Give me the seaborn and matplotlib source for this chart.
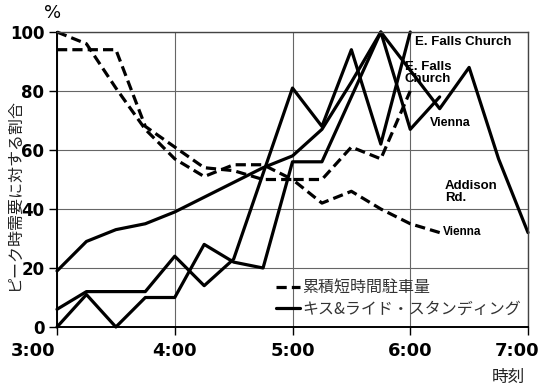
import matplotlib
matplotlib.use("Agg")
import matplotlib.pyplot as plt
import seaborn as sns
from matplotlib.lines import Line2D
from matplotlib.transforms import ScaledTranslation
from matplotlib.font_manager import FontProperties

# ---------------- data (hours, % of peak demand) ----------------
t_park_efc = [3.0, 3.25, 3.5, 3.75, 4.0, 4.25, 4.5, 4.75, 5.0, 5.25, 5.5, 5.75, 6.0]
park_efc = [100, 96, 81, 67, 57, 51, 55, 55, 50, 50, 61, 57, 80]

t_park_vienna = [3.0, 3.25, 3.5, 3.75, 4.0, 4.25, 4.5, 4.75, 5.0, 5.25, 5.5, 5.75, 6.0, 6.25]
park_vienna = [94, 94, 94, 68, 61, 54, 53, 50, 50, 42, 46, 40, 35, 32]

t_kr_efc = [3.0, 3.25, 3.5, 3.75, 4.0, 4.25, 4.5, 4.75, 5.0, 5.25, 5.5, 5.75, 6.0]
kr_efc = [6, 12, 12, 12, 24, 14, 23, 52, 81, 68, 94, 62, 100]

t_kr_vienna = [3.0, 3.25, 3.5, 3.75, 4.0, 4.25, 4.5, 4.75, 5.0, 5.25, 5.5, 5.75, 6.0, 6.25]
kr_vienna = [0, 11, 0, 10, 10, 28, 22, 20, 56, 56, 78, 100, 67, 78]

t_kr_addison = [3.0, 3.25, 3.5, 3.75, 4.0, 4.25, 4.5, 4.75, 5.0, 5.25, 5.5, 5.75, 6.0, 6.25, 6.5, 6.75, 7.0]
kr_addison = [19, 29, 33, 35, 39, 44, 49, 54, 58, 67, 83, 100, 87, 74, 88, 57, 32]

x_ticks = [3, 4, 5, 6, 7]
x_tick_labels = ["3:00", "4:00", "5:00", "6:00", "7:00"]
y_ticks = [0, 20, 40, 60, 80, 100]

legend_labels = ["累積短時間駐車量", "キス&ライド・スタンディング"]
y_label = "ピーク時需要に対する割合"
x_label = "時刻"

# ---------------- style ----------------
sns.set_theme(style="ticks")
plt.rcParams["font.family"] = ["DejaVu Sans", "Noto Sans CJK JP"]

fig = plt.figure(figsize=(5.45, 3.89), dpi=100)
ax = fig.add_axes([57 / 545, 62 / 389, 471 / 545, 295 / 389])

LW = 2.3
DASH = (0, (3.2, 1.6))

for t, v in [(t_park_efc, park_efc), (t_park_vienna, park_vienna)]:
    sns.lineplot(x=t, y=v, ax=ax, color="black", linewidth=LW,
                 linestyle=DASH, clip_on=False, legend=False)
for t, v in [(t_kr_efc, kr_efc), (t_kr_vienna, kr_vienna), (t_kr_addison, kr_addison)]:
    sns.lineplot(x=t, y=v, ax=ax, color="black", linewidth=LW,
                 clip_on=False, legend=False)

ax.set_xlim(3, 7)
ax.set_ylim(0, 100)
ax.set_xticks(x_ticks)
ax.set_xticklabels(x_tick_labels, fontsize=13, fontweight="bold")
ax.set_yticks(y_ticks)
ax.set_yticklabels([str(v) for v in y_ticks], fontsize=12, fontweight="bold")
ax.tick_params(axis="both", direction="out", length=6, width=1, color="black",
               labelcolor="black")
ax.tick_params(axis="x", pad=5)
ax.tick_params(axis="y", pad=3)

# shift edge tick labels inward like the reference
xl = ax.get_xticklabels()
xl[0].set_transform(xl[0].get_transform() + ScaledTranslation(-24 / 100, 0, fig.dpi_scale_trans))
xl[-1].set_transform(xl[-1].get_transform() + ScaledTranslation(-11 / 100, 0, fig.dpi_scale_trans))

ax.grid(True, color="#666666", linewidth=0.8)
ax.set_axisbelow(True)
for side in ["left", "bottom"]:
    ax.spines[side].set_color("black")
    ax.spines[side].set_linewidth(1.4)
for side in ["top", "right"]:
    ax.spines[side].set_color("#444444")
    ax.spines[side].set_linewidth(1.0)
ax.set_xlabel("")
ax.set_ylabel("")

# axis captions
fig.text(14 / 545, 1 - 195 / 389, y_label, rotation=90, ha="center", va="center",
         fontsize=11.5, family=["Noto Sans CJK JP", "DejaVu Sans"], color="#222222")
fig.text(53 / 545, 1 - 13 / 389, "%", ha="center", va="center", fontsize=13,
         color="black")
fig.text(508 / 545, 1 - 377 / 389, x_label, ha="center", va="center", fontsize=12,
         family=["Noto Sans CJK JP", "DejaVu Sans"], color="#222222")

# annotations
lab = dict(family="Liberation Sans", fontweight="bold", color="black",
           ha="left", va="center")
ax.text(6.04, 96.6, "E. Falls Church", fontsize=9.5, **lab)
ax.text(5.955, 86, "E. Falls\nChurch", fontsize=9.5, linespacing=1.0, **lab)
ax.text(6.17, 69.2, "Vienna", fontsize=9, **lab)
ax.text(6.295, 45.8, "Addison\nRd.", fontsize=9.5, linespacing=1.0, **lab)
ax.text(6.28, 32.2, "Vienna", fontsize=8.5, **lab)

# legend
handles = [Line2D([0], [0], color="black", lw=LW, linestyle=DASH),
           Line2D([0], [0], color="black", lw=LW)]
ax.legend(handles, legend_labels, loc="upper left", bbox_to_anchor=(0.465, 0.16),
          frameon=False, borderaxespad=0, borderpad=0, handlelength=1.5,
          handletextpad=0.15, labelspacing=0.25,
          prop=FontProperties(family="Noto Sans CJK JP", size=11.5),
          labelcolor="#333333")

fig.savefig("out.png", dpi=100)
